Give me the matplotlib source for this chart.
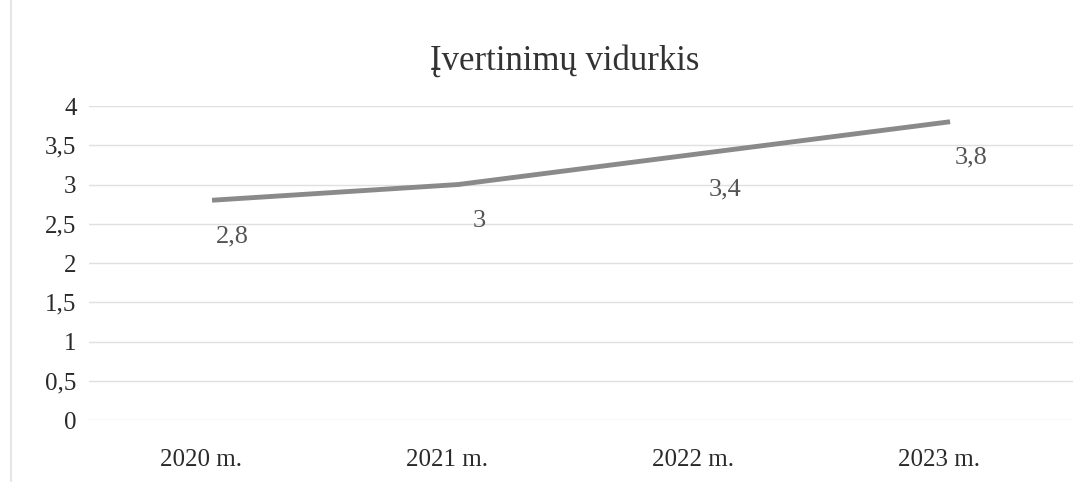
import matplotlib
matplotlib.use("Agg")
import matplotlib.pyplot as plt
from matplotlib.lines import Line2D
from matplotlib.transforms import ScaledTranslation

years = ["2020 m.", "2021 m.", "2022 m.", "2023 m."]
averages = [2.8, 3.0, 3.4, 3.8]
value_labels = ["2,8", "3", "3,4", "3,8"]
y_ticks = [0, 0.5, 1, 1.5, 2, 2.5, 3, 3.5, 4]
y_tick_labels = ["0", "0,5", "1", "1,5", "2", "2,5", "3", "3,5", "4"]

plt.rcParams["font.family"] = ["Liberation Serif", "DejaVu Serif"]

fig = plt.figure(figsize=(10.91, 4.82), dpi=100)
ax = fig.add_axes([0.0816, 0.1286, 0.902, 0.6514])

x = range(len(years))
ax.plot(x, averages, color="#8a8a8a", lw=3.5, solid_capstyle="butt", zorder=3)
for xi, yi, lab in zip(x, averages, value_labels):
    ax.annotate(lab, (xi, yi), xytext=(15, -26), textcoords="offset points",
                ha="center", va="center", fontsize=19, color="#555555")

ax.set_xlim(-0.5, len(years) - 0.5)
ax.set_ylim(0, 4)
ax.set_yticks(y_ticks)
ax.set_yticklabels(y_tick_labels)
ax.set_xticks(list(x))
ax.set_xticklabels(years)
ax.tick_params(axis="both", length=0, labelsize=18, colors="#2a2a2a")
ax.tick_params(axis="x", pad=21)
ax.tick_params(axis="y", pad=9)
ax.grid(axis="y", color="#e0e0e0", lw=1)
ax.set_axisbelow(True)
for s in ax.spines.values():
    s.set_visible(False)

# the scanned category labels sit slightly left of the data points
shift = ScaledTranslation(-8 / 72, 0, fig.dpi_scale_trans)
for lbl in ax.get_xticklabels():
    lbl.set_transform(lbl.get_transform() + shift)

fig.text(0.518, 0.872, "Įvertinimų vidurkis", ha="center", va="center",
         fontsize=25, color="#333333")
fig.add_artist(Line2D([0.010, 0.010], [0.0, 1.0], color="#e6e6e6", lw=1.5))

fig.savefig("out.png", dpi=100)
